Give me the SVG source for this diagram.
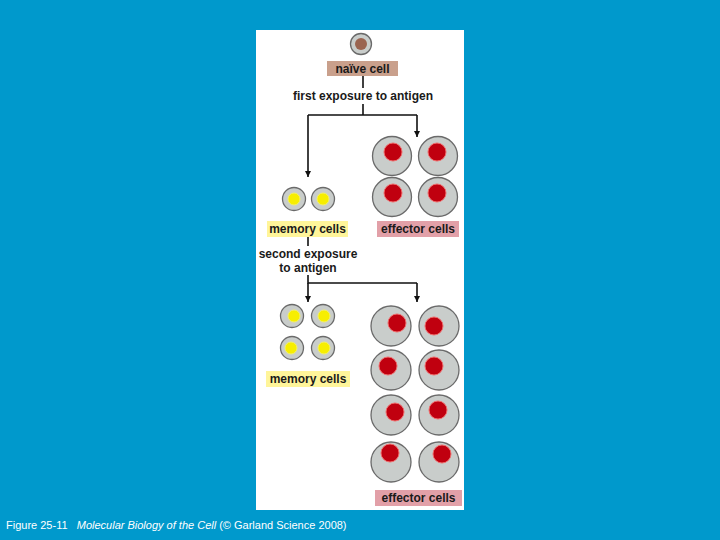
<svg xmlns="http://www.w3.org/2000/svg" width="720" height="540" viewBox="0 0 720 540">
<style>
.lbl{font-family:"Liberation Sans",Arial,sans-serif;font-weight:bold;font-size:12px;fill:#1a1a1a;text-anchor:middle}
.cell{fill:#c9cdcb;stroke:#6a6a6a;stroke-width:1.3}
.eff{fill:#c0000f;stroke:#f06a6a;stroke-width:1}
.mem{fill:#f7ee00;stroke:#f2f06a;stroke-width:1}
.ln{fill:none;stroke:#111;stroke-width:1.6}
.cap{font-family:"Liberation Sans",Arial,sans-serif;font-size:11px;fill:#ffffff}
</style>
<defs>
<marker id="ah" viewBox="0 0 10 10" refX="10" refY="5" markerWidth="6" markerHeight="6" markerUnits="userSpaceOnUse" orient="auto">
<path d="M0,0 L10,5 L0,10 z" fill="#111"/>
</marker>
</defs>
<rect width="720" height="540" fill="#0099cc"/>
<rect x="256" y="30" width="208" height="480" fill="#ffffff"/>

<g id="naive">
<circle cx="361" cy="44" r="10.5" class="cell"/>
<circle cx="361" cy="44" r="6" fill="#9a6450"/>
<rect x="327" y="61" width="71" height="15" fill="#c9a08c"/>
<text x="362.5" y="73" class="lbl">naïve cell</text>
</g>

<g id="connectors">
<path class="ln" d="M363,76 V88"/>
<path class="ln" d="M363,104 V115 M308,115 H417"/>
<path class="ln" d="M308,115 V177" marker-end="url(#ah)"/>
<path class="ln" d="M417,115 V137" marker-end="url(#ah)"/>
<path class="ln" d="M308,237 V246"/>
<path class="ln" d="M308,275 V283 H417"/>
<path class="ln" d="M308,283 V302" marker-end="url(#ah)"/>
<path class="ln" d="M417,283 V302" marker-end="url(#ah)"/>
</g>

<g id="exposure1"><text x="363" y="100" class="lbl">first exposure to antigen</text></g>
<g id="exposure2">
<text x="308" y="258" class="lbl">second exposure</text>
<text x="308" y="272" class="lbl">to antigen</text>
</g>

<g id="memory1">
<circle cx="294" cy="199" r="11.5" class="cell"/><circle cx="294" cy="199" r="6" class="mem"/>
<circle cx="323" cy="199" r="11.5" class="cell"/><circle cx="323" cy="199" r="6" class="mem"/>
<rect x="267" y="221" width="81" height="16" fill="#fff59a"/>
<text x="307.5" y="233" class="lbl">memory cells</text>
</g>

<g id="effector1">
<circle cx="392" cy="156" r="19.5" class="cell"/><circle cx="393" cy="152" r="9" class="eff"/>
<circle cx="438" cy="156" r="19.5" class="cell"/><circle cx="437" cy="152" r="9" class="eff"/>
<circle cx="392" cy="197" r="19.5" class="cell"/><circle cx="393" cy="193" r="9" class="eff"/>
<circle cx="438" cy="197" r="19.5" class="cell"/><circle cx="437" cy="193" r="9" class="eff"/>
<rect x="377" y="221" width="82" height="16" fill="#e2a0a8"/>
<text x="418" y="233" class="lbl">effector cells</text>
</g>

<g id="memory2">
<circle cx="292" cy="316" r="11.5" class="cell"/><circle cx="294" cy="316" r="6" class="mem"/>
<circle cx="323" cy="316" r="11.5" class="cell"/><circle cx="324" cy="316" r="6" class="mem"/>
<circle cx="292" cy="348" r="11.5" class="cell"/><circle cx="291" cy="348" r="6" class="mem"/>
<circle cx="323" cy="348" r="11.5" class="cell"/><circle cx="324" cy="348" r="6" class="mem"/>
<rect x="266" y="371" width="84" height="16" fill="#fff59a"/>
<text x="308" y="383" class="lbl">memory cells</text>
</g>

<g id="effector2">
<circle cx="391" cy="326" r="20" class="cell"/><circle cx="397" cy="323" r="9" class="eff"/>
<circle cx="439" cy="326" r="20" class="cell"/><circle cx="434" cy="326" r="9" class="eff"/>
<circle cx="391" cy="370" r="20" class="cell"/><circle cx="388" cy="366" r="9" class="eff"/>
<circle cx="439" cy="370" r="20" class="cell"/><circle cx="434" cy="366" r="9" class="eff"/>
<circle cx="391" cy="415" r="20" class="cell"/><circle cx="395" cy="412" r="9" class="eff"/>
<circle cx="439" cy="415" r="20" class="cell"/><circle cx="438" cy="410" r="9" class="eff"/>
<circle cx="391" cy="462" r="20" class="cell"/><circle cx="390" cy="453" r="9" class="eff"/>
<circle cx="439" cy="462" r="20" class="cell"/><circle cx="442" cy="454" r="9" class="eff"/>
<rect x="375" y="490" width="87" height="16" fill="#e2a0a8"/>
<text x="418.5" y="502" class="lbl">effector cells</text>
</g>

<text x="6" y="529" class="cap" xml:space="preserve">Figure 25-11   <tspan font-style="italic">Molecular Biology of the Cell</tspan> (© Garland Science 2008)</text>
</svg>
